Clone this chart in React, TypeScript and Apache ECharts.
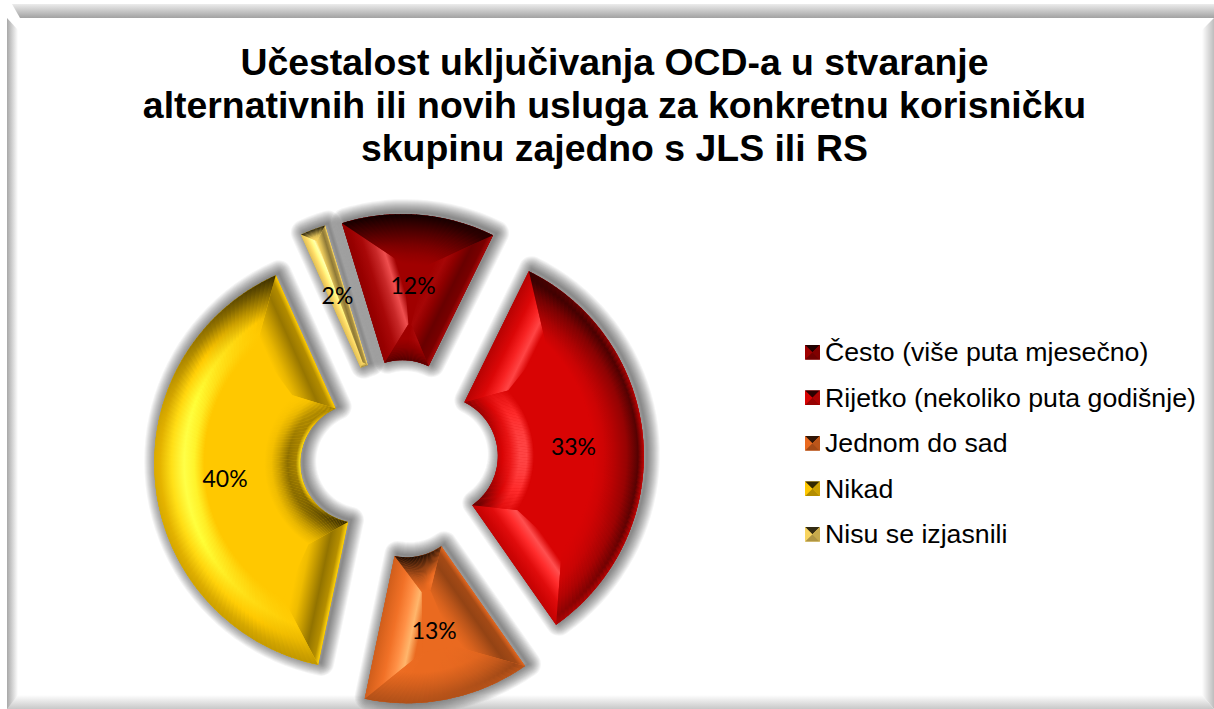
import React, { useEffect, useRef } from "react";
import * as echarts from "echarts";

const titleText = "Učestalost uključivanja OCD-a u stvaranje\nalternativnih ili novih usluga za konkretnu korisničku\nskupinu zajedno s JLS ili RS";
const categories = ["Često (više puta mjesečno)", "Rijetko (nekoliko puta godišnje)", "Jednom do sad", "Nikad", "Nisu se izjasnili"];
const shares = [12, 33, 13, 40, 2];
const colors = ["#a00000", "#d80404", "#ea6a20", "#ffc800", "#f8d460"];

const CENTER = [399, 459];
const R_IN = 60;
const R_OUT = 206;
const EXPLODE = 39;
const START = -17;
const W_OUT = 50, W_IN = 36, WS_OUT = 47, WS_IN = 34;
const SHADOW_WIDTHS = [26, 24, 22, 20, 18, 16, 14, 12, 10, 8, 6, 4, 2];

const OFFSETS = [0, 0.12, 0.35, 0.6, 0.8, 1];
const PROFILES: Record<string, Record<string, number[]>> = {
  outer: {
    L: [-0.15, -0.1, 0.3, 0.9, 0.55, 0],
    R: [-0.1, -0.6, -0.3, -0.15, -0.05, 0],
    U: [-0.9, -0.75, -0.5, -0.25, -0.1, 0],
    D: [-0.25, -0.2, -0.1, 0, 0, 0],
  },
  side: {
    L: [-0.1, -0.05, 0.1, 0.5, 1, 0],
    R: [0.15, -0.3, -0.45, -0.25, -0.1, 0],
    U: [-0.4, -0.3, -0.2, -0.1, -0.05, 0],
    D: [-0.1, -0.05, 0.1, 0.5, 0.8, 0],
  },
  inner: {
    L: [-0.1, 0, 0.25, 0.8, 0.8, 0],
    R: [0.35, -0.35, -0.45, -0.2, -0.05, 0],
    U: [-0.9, -0.75, -0.5, -0.25, -0.1, 0],
    D: [-0.5, -0.35, -0.15, 0, 0, 0],
  },
};

const hexRgb = (h: string) => [1, 3, 5].map((i) => parseInt(h.slice(i, i + 2), 16));
const mix = (a: string, b: string, t: number) => {
  const x = hexRgb(a), y = hexRgb(b);
  const c = x.map((v, i) => Math.round(v + (y[i] - v) * t));
  return `rgb(${c[0]},${c[1]},${c[2]})`;
};
const shade = (base: string, v: number) => {
  if (v < 0) return mix(base, "#000000", -v);
  const c = hexRgb(base).map((x) => Math.min(255, Math.round(x + 80 * v)));
  return `rgb(${c[0]},${c[1]},${c[2]})`;
};
const rad = (d: number) => (d * Math.PI) / 180;

function stops(base: string, n: number[], kind: string) {
  const p = PROFILES[kind];
  const wL = n[0] < 0 ? n[0] * n[0] : 0, wR = n[0] > 0 ? n[0] * n[0] : 0;
  const wU = n[1] < 0 ? n[1] * n[1] : 0, wD = n[1] > 0 ? n[1] * n[1] : 0;
  return OFFSETS.map((offset, i) => ({
    offset,
    color: shade(base, wL * p.L[i] + wR * p.R[i] + wU * p.U[i] + wD * p.D[i]),
  }));
}

function renderFacets(params: any, api: any) {
  const idx = params.dataIndex;
  const total = shares.reduce((a, b) => a + b, 0);
  const before = shares.slice(0, idx).reduce((a, b) => a + b, 0);
  const a0 = START + (before / total) * 360;
  const a1 = a0 + (Number(api.value(0)) / total) * 360;
  const mid = (a0 + a1) / 2;
  const h = (a1 - a0) / 2;
  const base = colors[idx];
  const ax = CENTER[0] + EXPLODE * Math.sin(rad(mid));
  const ay = CENTER[1] - EXPLODE * Math.cos(rad(mid));
  const pt = (r: number, th: number) => [ax + r * Math.sin(rad(th)), ay - r * Math.cos(rad(th))];
  const dir = (th: number) => [Math.sin(rad(th)), -Math.cos(rad(th))];

  const ro = R_OUT - W_OUT, ri = R_IN + W_IN;
  const dOut = (Math.asin(WS_OUT / ro) * 180) / Math.PI;
  const dIn = (Math.asin(WS_IN / ri) * 180) / Math.PI;
  const plateau = dOut < h && dIn < h;
  const sinH = Math.sin(rad(h));
  const p1r = R_OUT / (1 + sinH), p2r = R_IN / (1 - sinH);
  const outerRidge = (u: number) => (plateau ? pt(ro, a0 + dOut + u * (a1 - a0 - 2 * dOut)) : pt(p1r, mid));
  const innerRidge = (u: number) => (plateau ? pt(ri, a0 + dIn + u * (a1 - a0 - 2 * dIn)) : pt(p2r, mid));
  const sideW = plateau ? (WS_OUT + WS_IN) / 2 : p1r * sinH;

  const children: any[] = [];
  const poly = (points: number[][], fill: any) =>
    children.push({ type: "polygon", silent: true, shape: { points }, style: { fill, stroke: null } });
  const grad = (from: number[], to: number[], st: any[]) =>
    new echarts.graphic.LinearGradient(from[0], from[1], to[0], to[1], st, true);
  const arc = (r: number, from: number, to: number) => {
    const n = Math.max(2, Math.ceil(Math.abs(to - from) / 3));
    return Array.from({ length: n + 1 }, (_, i) => pt(r, from + ((to - from) * i) / n));
  };

  // soft drop shadow: stacked translucent outlines of the slice, nudged up and right
  const outline = [...arc(R_OUT, a0, a1), ...arc(R_IN, a1, a0)];
  const shadowPts = outline.map((p) => [p[0] + 3, p[1] - 2]);
  SHADOW_WIDTHS.forEach((w) => {
    children.push({
      type: "polygon",
      silent: true,
      shape: { points: shadowPts },
      style: { fill: "none", stroke: "rgba(0,0,0,0.045)", lineWidth: w, lineJoin: "round" },
    });
  });
  poly(outline, base);

  if (plateau) poly([...arc(ro, a0 + dOut, a1 - dOut), ...arc(ri, a1 - dIn, a0 + dIn)], base);

  const sideFacet = (edge: number, u: number, sgn: number) => {
    const n = dir(edge + sgn * 90);
    const e = pt((R_IN + R_OUT) / 2, edge);
    const t = [e[0] - n[0] * sideW, e[1] - n[1] * sideW];
    poly([pt(R_IN, edge), pt(R_OUT, edge), outerRidge(u), innerRidge(u)], grad(e, t, stops(base, n, "side")));
  };
  sideFacet(a0, 0, -1);
  sideFacet(a1, 1, 1);

  const strips = Math.max(3, Math.ceil((a1 - a0) / 1.5));
  for (let i = 0; i < strips; i++) {
    const u0 = i / strips;
    const u1 = Math.min(1, (i + 1.2) / strips);
    const um = (u0 + u1) / 2;
    const th0 = a0 + u0 * (a1 - a0), th1 = a0 + u1 * (a1 - a0), thm = a0 + um * (a1 - a0);
    const nOut = dir(thm);
    poly(
      [pt(R_OUT, th0), pt(R_OUT, th1), outerRidge(u1), outerRidge(u0)],
      grad(pt(R_OUT, thm), outerRidge(um), stops(base, nOut, "outer"))
    );
    poly(
      [pt(R_IN, th0), pt(R_IN, th1), innerRidge(u1), innerRidge(u0)],
      grad(pt(R_IN, thm), innerRidge(um), stops(base, [-nOut[0], -nOut[1]], "inner"))
    );
  }
  return { type: "group", children };
}

function bevelIcon(base: string) {
  const svg =
    `<svg xmlns="http://www.w3.org/2000/svg" width="15" height="15">` +
    `<rect width="15" height="15" fill="${base}"/>` +
    `<polygon points="0,0 15,0 7.5,7.5" fill="${mix(base, "#000000", 0.8)}"/>` +
    `<polygon points="15,0 15,15 7.5,7.5" fill="${mix(base, "#000000", 0.2)}"/>` +
    `<polygon points="0,15 15,15 7.5,7.5" fill="${mix(base, "#000000", 0.3)}"/>` +
    `</svg>`;
  return "image://data:image/svg+xml;charset=utf-8," + encodeURIComponent(svg);
}

const vGrad = (a: string, b: string) => new echarts.graphic.LinearGradient(0, 0, 0, 1, [{ offset: 0, color: a }, { offset: 1, color: b }]);
const hGrad = (a: string, b: string) => new echarts.graphic.LinearGradient(0, 0, 1, 0, [{ offset: 0, color: a }, { offset: 1, color: b }]);

export default function App() {
  const ref = useRef<HTMLDivElement>(null);
  useEffect(() => {
    document.body.style.margin = "0";
    const chart = echarts.init(ref.current!, undefined, { renderer: "svg" });
    const pieBase = {
      type: "pie",
      center: CENTER,
      radius: [R_IN, R_OUT],
      startAngle: 90 - START,
      clockwise: true,
      selectedMode: "multiple",
      selectedOffset: EXPLODE,
      avoidLabelOverlap: false,
      silent: true,
      emphasis: { disabled: true },
      labelLine: { show: false },
    };
    chart.setOption({
      animation: false,
      backgroundColor: "#ffffff",
      title: {
        text: titleText,
        left: 609.5,
        top: 35,
        textAlign: "center",
        textStyle: { fontFamily: "Liberation Sans", fontWeight: "bold", fontSize: 37.4, lineHeight: 43, color: "#000000" },
      },
      legend: {
        orient: "vertical",
        left: 805,
        top: 338,
        itemWidth: 15,
        itemHeight: 15,
        itemGap: 17,
        padding: 0,
        selectedMode: false,
        textStyle: { fontFamily: "Liberation Sans", fontSize: 26.7, color: "#000000", lineHeight: 28.5 },
        data: categories.map((name, i) => ({ name, icon: bevelIcon(colors[i]) })),
      },
      graphic: [
        { type: "polygon", z: 0, shape: { points: [[12, 4], [1214, 4], [1214, 18], [20, 18]] }, style: { fill: vGrad("#ececec", "#a2a2a2") } },
        { type: "polygon", z: 0, shape: { points: [[7, 18], [18, 30], [18, 709], [7, 709]] }, style: { fill: hGrad("#a8a8a8", "#ffffff") } },
        { type: "polygon", z: 0, shape: { points: [[1202, 30], [1214, 18], [1214, 709], [1202, 695]] }, style: { fill: hGrad("#ffffff", "#bdbdbd") } },
        { type: "polygon", z: 0, shape: { points: [[18, 695], [1202, 695], [1214, 709], [7, 709]] }, style: { fill: vGrad("#ffffff", "#c8c8c8") } },
      ],
      series: [
        {
          ...pieBase,
          name: "base",
          z: 1,
          label: { show: false },
          data: categories.map((name, i) => ({
            name,
            value: shares[i],
            selected: true,
            itemStyle: { color: colors[i] },
            select: { itemStyle: { color: colors[i], borderWidth: 0 } },
          })),
        },
        {
          type: "custom",
          name: "bevel",
          coordinateSystem: "none",
          silent: true,
          z: 2,
          renderItem: renderFacets,
          data: shares.map((v) => [v]),
        },
        {
          ...pieBase,
          name: "labels",
          z: 3,
          label: {
            show: true,
            position: "inside",
            formatter: "{c}%",
            fontFamily: "Lato",
            fontSize: 23,
            color: "#000000",
          },
          data: categories.map((name, i) => ({
            name,
            value: shares[i],
            selected: true,
            itemStyle: { color: "rgba(0,0,0,0)" },
            select: { itemStyle: { color: "rgba(0,0,0,0)", borderWidth: 0 }, label: { color: "#000000" } },
            label: i === 1 ? { offset: [-8, -16] } : {},
          })),
        },
      ],
    });
    return () => chart.dispose();
  }, []);
  return <div ref={ref} style={{ width: 1214, height: 709 }} />;
}
